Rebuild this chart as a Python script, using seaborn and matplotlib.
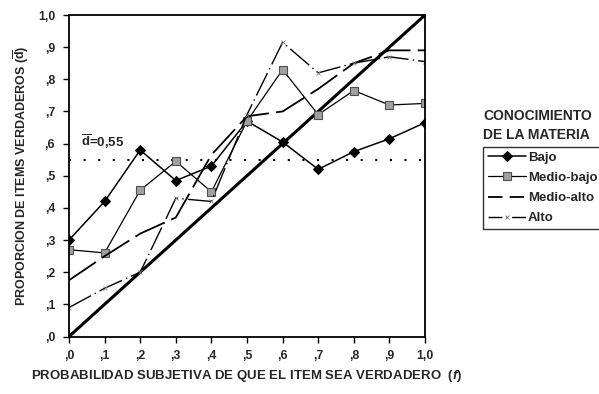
import matplotlib
matplotlib.use("Agg")
import matplotlib.pyplot as plt
import pandas as pd
import seaborn as sns

# Subjective probability assigned to the item being true (x) and observed
# proportion of true items (y), by level of subject knowledge.
prob = [0.0, 0.1, 0.2, 0.3, 0.4, 0.5, 0.6, 0.7, 0.8, 0.9, 1.0]
bajo = [0.30, 0.42, 0.58, 0.485, 0.53, 0.67, 0.605, 0.52, 0.575, 0.615, 0.665]
medio_bajo = [0.27, 0.26, 0.455, 0.545, 0.45, 0.67, 0.83, 0.69, 0.765, 0.72, 0.725]
medio_alto = [0.175, 0.25, 0.32, 0.37, 0.565, 0.685, 0.70, 0.77, 0.85, 0.89, 0.89]
alto = [0.09, 0.15, 0.20, 0.43, 0.42, 0.69, 0.915, 0.82, 0.85, 0.87, 0.855]
series_names = ["Bajo", "Medio-bajo", "Medio-alto", "Alto"]
tick_labels = [",0", ",1", ",2", ",3", ",4", ",5", ",6", ",7", ",8", ",9", "1,0"]
d_mean = 0.55

sns.set_style("ticks")
plt.rcParams["font.family"] = ["Liberation Sans", "DejaVu Sans"]
plt.rcParams["font.weight"] = "bold"
plt.rcParams["mathtext.fontset"] = "custom"
plt.rcParams["mathtext.rm"] = "Liberation Sans:bold"
plt.rcParams["mathtext.it"] = "Liberation Sans:italic:bold"

df = pd.DataFrame({"prob": prob, "Bajo": bajo, "Medio-bajo": medio_bajo,
                   "Medio-alto": medio_alto, "Alto": alto})

fig = plt.figure(figsize=(5.99, 3.94), dpi=100)
W, H = 599, 394
ax = fig.add_axes([69 / W, 1 - 336.5 / H, (425 - 69) / W, (336.5 - 15) / H])

# perfect-calibration diagonal
sns.lineplot(x=prob, y=prob, ax=ax, color="black", lw=2.2, legend=False)
# mean proportion of true items
ax.axhline(d_mean, color="black", lw=1.5, ls=(0, (1, 6)))

styles = {
    "Bajo": dict(color="black", lw=1.1, ls="-", marker="D", ms=5,
                 mfc="black", mec="black"),
    "Medio-bajo": dict(color="black", lw=0.9, ls="-", marker="s", ms=5.5,
                       mfc="#a0a0a0", mec="#505050", mew=0.8),
    "Medio-alto": dict(color="black", lw=1.3, ls=(0, (18, 4)), marker=None),
    "Alto": dict(color="black", lw=1.0, ls=(0, (18, 3, 1, 3)), marker="x",
                 ms=3, mec="#808080", mew=0.6),
}
for name in series_names:
    st = styles[name]
    sns.lineplot(data=df, x="prob", y=name, ax=ax, label=name, **st)

ax.set_xlim(0, 1)
ax.set_ylim(0, 1)
ax.set_xticks(prob)
ax.set_yticks(prob)
ax.set_xticklabels(tick_labels)
ax.set_yticklabels(tick_labels)
ax.tick_params(direction="out", length=4, width=1, labelsize=8.8, color="black",
               pad=6)
for lab in ax.get_xticklabels() + ax.get_yticklabels():
    lab.set_fontweight("bold")
for sp in ax.spines.values():
    sp.set_color("black")
    sp.set_linewidth(1.3)

ax.set_xlabel(r"PROBABILIDAD SUBJETIVA DE QUE EL ITEM SEA VERDADERO  ($\mathit{f}$)",
              fontsize=9.5, fontweight="bold", labelpad=4)
ax.set_ylabel(r"PROPORCION DE ITEMS VERDADEROS ($\overline{\mathrm{d}}$)",
              fontsize=9, fontweight="bold", labelpad=5)

ax.text(0.035, 0.605, r"$\overline{\mathrm{d}}$=0,55", fontsize=9.5,
        fontweight="bold", va="center", ha="left")

fig.text(483 / W, 1 - 109 / H, "CONOCIMIENTO\nDE LA MATERIA", fontsize=10,
         fontweight="bold", va="top", ha="left", linespacing=1.45)
leg = ax.legend(loc="upper left", bbox_to_anchor=(483 / W, 1 - 147 / H),
                bbox_transform=fig.transFigure, frameon=True, fancybox=False,
                edgecolor="black", fontsize=9.5, handlelength=2.9,
                handletextpad=0.15, labelspacing=0.6, borderpad=0.35,
                borderaxespad=0)
leg.get_frame().set_linewidth(1.0)
for t in leg.get_texts():
    t.set_fontweight("bold")
# shorter dash patterns so the legend swatches show the repeat
handles = leg.get_lines()
handles[2].set_linestyle((0, (8, 4)))
handles[3].set_linestyle((0, (10, 3, 1, 3)))

fig.savefig("out.png", dpi=100)
